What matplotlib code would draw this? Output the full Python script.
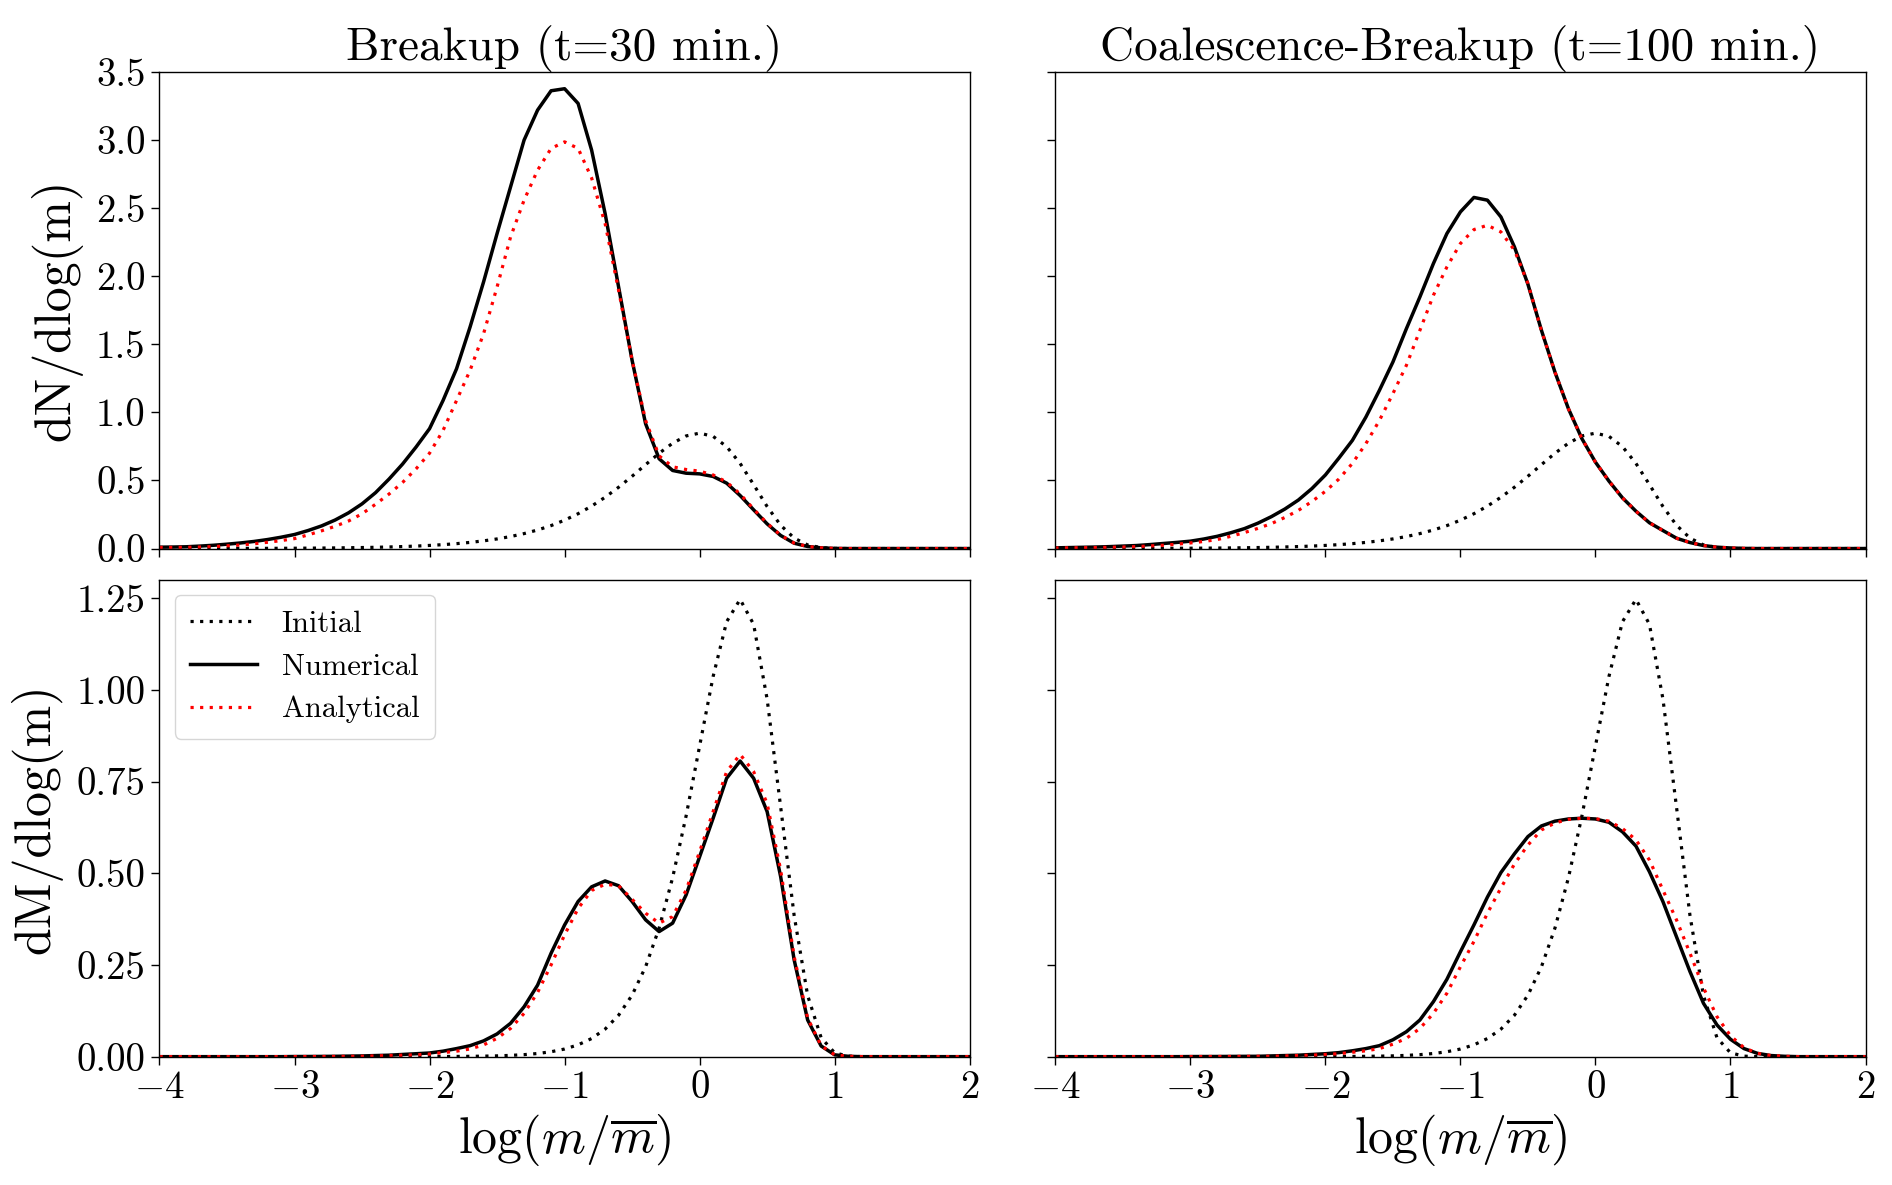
import matplotlib
matplotlib.use("Agg")
import matplotlib.pyplot as plt

plt.rcParams['font.family'] = 'serif'
plt.rcParams['font.serif'] = ['cmr10']
plt.rcParams['mathtext.fontset'] = 'cm'
plt.rcParams['axes.formatter.use_mathtext'] = True
plt.rcParams['axes.unicode_minus'] = True

# ---------------- data ----------------
logm = [-4.0, -3.9, -3.8, -3.7, -3.6, -3.5, -3.4, -3.3, -3.2, -3.1,
        -3.0, -2.9, -2.8, -2.7, -2.6, -2.5, -2.4, -2.3, -2.2, -2.1,
        -2.0, -1.9, -1.8, -1.7, -1.6, -1.5, -1.4, -1.3, -1.2, -1.1,
        -1.0, -0.9, -0.8, -0.7, -0.6, -0.5, -0.4, -0.3, -0.2, -0.1,
        0.0, 0.1, 0.2, 0.3, 0.4, 0.5, 0.6, 0.7, 0.8, 0.9,
        1.0, 1.1, 1.2, 1.3, 1.4, 1.5, 1.6, 1.7, 1.8, 1.9, 2.0]

initial_dN = [0.0002, 0.0003, 0.0004, 0.0005, 0.0006, 0.0007, 0.0009, 0.0012, 0.0015, 0.0018,
              0.0023, 0.0029, 0.0036, 0.0046, 0.0058, 0.0073, 0.0091, 0.0115, 0.0144, 0.0181,
              0.0228, 0.0286, 0.0359, 0.0450, 0.0564, 0.0705, 0.0880, 0.1097, 0.1361, 0.1683,
              0.2083, 0.2556, 0.3114, 0.3763, 0.4499, 0.5307, 0.6157, 0.6991, 0.7731, 0.8265,
              0.8471, 0.8233, 0.7481, 0.6248, 0.4692, 0.3082, 0.1711, 0.0768, 0.0264, 0.0065,
              0.0010, 0.0001, 0.0, 0.0, 0.0, 0.0, 0.0, 0.0, 0.0, 0.0, 0.0]

initial_dM = [0.0, 0.0, 0.0, 0.0, 0.0, 0.0, 0.0, 0.0, 0.0, 0.0,
              0.0, 0.0, 0.0, 0.0, 0.0, 0.0, 0.0, 0.0, 0.0001, 0.0001,
              0.0002, 0.0004, 0.0006, 0.0009, 0.0014, 0.0022, 0.0035, 0.0055, 0.0086, 0.0134,
              0.0208, 0.0322, 0.0494, 0.0751, 0.1130, 0.1678, 0.2451, 0.3504, 0.4878, 0.6565,
              0.8471, 1.0365, 1.1857, 1.2467, 1.1786, 0.9746, 0.6812, 0.3849, 0.1666, 0.0516,
              0.0105, 0.0014, 0.0001, 0.0, 0.0, 0.0, 0.0, 0.0, 0.0, 0.0, 0.0]

# Breakup (t = 30 min)
breakup_dN_num = [0.010, 0.011, 0.013, 0.018, 0.024, 0.032, 0.041, 0.052, 0.066, 0.083,
                  0.103, 0.132, 0.166, 0.209, 0.262, 0.328, 0.410, 0.510, 0.620, 0.745,
                  0.880, 1.087, 1.320, 1.626, 1.957, 2.312, 2.655, 2.998, 3.218, 3.360,
                  3.375, 3.267, 2.925, 2.459, 1.920, 1.381, 0.916, 0.659, 0.573, 0.553,
                  0.548, 0.529, 0.480, 0.389, 0.284, 0.181, 0.096, 0.039, 0.015, 0.005,
                  0.001, 0.0, 0.0, 0.0, 0.0, 0.0, 0.0, 0.0, 0.0, 0.0, 0.0]

breakup_dN_ana = [0.008, 0.008, 0.009, 0.011, 0.014, 0.020, 0.026, 0.035, 0.046, 0.058,
                  0.073, 0.100, 0.130, 0.163, 0.202, 0.255, 0.325, 0.400, 0.485, 0.585,
                  0.700, 0.867, 1.087, 1.308, 1.577, 1.920, 2.287, 2.557, 2.777, 2.937,
                  2.985, 2.937, 2.720, 2.386, 1.895, 1.381, 0.940, 0.680, 0.600, 0.580,
                  0.568, 0.540, 0.488, 0.400, 0.290, 0.185, 0.098, 0.040, 0.015, 0.005,
                  0.001, 0.0, 0.0, 0.0, 0.0, 0.0, 0.0, 0.0, 0.0, 0.0, 0.0]

breakup_dM_num = [0.0, 0.0, 0.0, 0.0, 0.0, 0.0, 0.0, 0.0, 0.0, 0.0,
                  0.0004, 0.0005, 0.0007, 0.001, 0.0015, 0.002, 0.003, 0.004, 0.006, 0.008,
                  0.010, 0.015, 0.022, 0.030, 0.043, 0.062, 0.091, 0.136, 0.195, 0.282,
                  0.359, 0.423, 0.463, 0.479, 0.466, 0.423, 0.373, 0.341, 0.364, 0.441,
                  0.545, 0.650, 0.759, 0.806, 0.759, 0.668, 0.491, 0.264, 0.100, 0.029,
                  0.005, 0.001, 0.0, 0.0, 0.0, 0.0, 0.0, 0.0, 0.0, 0.0, 0.0]

breakup_dM_ana = [0.0, 0.0, 0.0, 0.0, 0.0, 0.0, 0.0, 0.0, 0.0, 0.0,
                  0.0002, 0.0003, 0.0004, 0.0006, 0.0008, 0.001, 0.002, 0.003, 0.004, 0.005,
                  0.007, 0.011, 0.015, 0.021, 0.032, 0.050, 0.077, 0.118, 0.175, 0.250,
                  0.332, 0.404, 0.453, 0.470, 0.466, 0.429, 0.391, 0.364, 0.382, 0.454,
                  0.559, 0.668, 0.777, 0.824, 0.777, 0.690, 0.509, 0.273, 0.105, 0.030,
                  0.005, 0.001, 0.0, 0.0, 0.0, 0.0, 0.0, 0.0, 0.0, 0.0, 0.0]

# Coalescence-Breakup (t = 100 min)
coalbr_dN_num = [0.005, 0.007, 0.009, 0.011, 0.014, 0.018, 0.022, 0.029, 0.037, 0.045,
                 0.054, 0.070, 0.090, 0.116, 0.146, 0.186, 0.234, 0.290, 0.356, 0.440,
                 0.540, 0.664, 0.794, 0.965, 1.161, 1.369, 1.614, 1.847, 2.092, 2.312,
                 2.471, 2.577, 2.557, 2.434, 2.214, 1.940, 1.602, 1.295, 1.026, 0.806,
                 0.634, 0.495, 0.372, 0.274, 0.189, 0.132, 0.076, 0.044, 0.022, 0.010,
                 0.004, 0.001, 0.0, 0.0, 0.0, 0.0, 0.0, 0.0, 0.0, 0.0, 0.0]

coalbr_dN_ana = [0.004, 0.005, 0.006, 0.007, 0.009, 0.011, 0.014, 0.019, 0.024, 0.032,
                 0.041, 0.052, 0.066, 0.090, 0.117, 0.148, 0.183, 0.228, 0.280, 0.345,
                 0.420, 0.510, 0.625, 0.770, 0.940, 1.137, 1.345, 1.602, 1.859, 2.067,
                 2.239, 2.341, 2.373, 2.324, 2.190, 1.945, 1.600, 1.295, 1.026, 0.806,
                 0.634, 0.495, 0.372, 0.274, 0.189, 0.132, 0.076, 0.044, 0.022, 0.010,
                 0.004, 0.001, 0.0, 0.0, 0.0, 0.0, 0.0, 0.0, 0.0, 0.0, 0.0]

coalbr_dM_num = [0.0, 0.0, 0.0, 0.0, 0.0, 0.0, 0.0, 0.0, 0.0, 0.0,
                 0.0003, 0.0004, 0.0005, 0.0007, 0.0009, 0.001, 0.002, 0.003, 0.004, 0.006,
                 0.008, 0.011, 0.016, 0.022, 0.030, 0.046, 0.068, 0.100, 0.150, 0.211,
                 0.286, 0.359, 0.435, 0.502, 0.553, 0.600, 0.629, 0.642, 0.648, 0.650,
                 0.648, 0.639, 0.613, 0.574, 0.504, 0.4225, 0.327, 0.232, 0.1455, 0.0864,
                 0.0474, 0.022, 0.009, 0.003, 0.001, 0.0, 0.0, 0.0, 0.0, 0.0, 0.0]

coalbr_dM_ana = [0.0, 0.0, 0.0, 0.0, 0.0, 0.0, 0.0, 0.0, 0.0, 0.0,
                 0.0002, 0.0003, 0.0004, 0.0005, 0.0007, 0.001, 0.001, 0.002, 0.003, 0.004,
                 0.006, 0.008, 0.012, 0.016, 0.022, 0.034, 0.050, 0.077, 0.118, 0.173,
                 0.245, 0.314, 0.391, 0.460, 0.525, 0.577, 0.618, 0.637, 0.647, 0.650,
                 0.649, 0.642, 0.622, 0.591, 0.536, 0.454, 0.373, 0.282, 0.188, 0.109,
                 0.057, 0.0245, 0.009, 0.003, 0.001, 0.0, 0.0, 0.0, 0.0, 0.0, 0.0]

titles = ["Breakup (t=30 min.)", "Coalescence-Breakup (t=100 min.)"]
ylabels = ["dN/dlog(m)", "dM/dlog(m)"]
xlabel = r"$\log(m/\overline{m})$"
legend_labels = ["Initial", "Numerical", "Analytical"]

top_yticks = [0.0, 0.5, 1.0, 1.5, 2.0, 2.5, 3.0, 3.5]
bot_yticks = [0.00, 0.25, 0.50, 0.75, 1.00, 1.25]
xticks = [-4, -3, -2, -1, 0, 1, 2]

# ---------------- figure ----------------
fig = plt.figure(figsize=(18.92, 11.85), dpi=100)
L, R = 0.0843, 0.986
B, T = 0.1083, 0.9395
gs = fig.add_gridspec(2, 2, left=L, right=R, bottom=B, top=T,
                      wspace=0.1057, hspace=0.0656)
ax00 = fig.add_subplot(gs[0, 0])
ax01 = fig.add_subplot(gs[0, 1], sharey=ax00)
ax10 = fig.add_subplot(gs[1, 0], sharex=ax00)
ax11 = fig.add_subplot(gs[1, 1], sharey=ax10, sharex=ax01)

dot_dash = (0, (1.0, 2.0))
lw_dot = 2.3
lw_sol = 2.5

panels = [
    (ax00, initial_dN, breakup_dN_num, breakup_dN_ana),
    (ax01, initial_dN, coalbr_dN_num, coalbr_dN_ana),
    (ax10, initial_dM, breakup_dM_num, breakup_dM_ana),
    (ax11, initial_dM, coalbr_dM_num, coalbr_dM_ana),
]
for ax, ini, num, ana in panels:
    ax.plot(logm, ini, color='black', linestyle=dot_dash, lw=lw_dot, label=legend_labels[0])
    ax.plot(logm, num, color='black', linestyle='-', lw=lw_sol, label=legend_labels[1])
    ax.plot(logm, ana, color='red', linestyle=dot_dash, lw=lw_dot, label=legend_labels[2])
    ax.set_xlim(-4, 2)
    ax.set_xticks(xticks)
    ax.tick_params(axis='both', which='major', labelsize=28, length=6, width=1.0,
                   direction='out', pad=4)
    for s in ax.spines.values():
        s.set_linewidth(1.0)

ax00.set_ylim(0, 3.5)
ax00.set_yticks(top_yticks)
ax10.set_ylim(0, 1.30)
ax10.set_yticks(bot_yticks)
ax10.set_yticklabels([f"{v:.2f}" for v in bot_yticks])
ax00.set_yticklabels([f"{v:.1f}" for v in top_yticks])

for ax in (ax00, ax01):
    ax.tick_params(labelbottom=False)
for ax in (ax01, ax11):
    ax.tick_params(labelleft=False)

ax00.set_title(titles[0], fontsize=34, pad=8)
ax01.set_title(titles[1], fontsize=34, pad=8)
ax00.set_ylabel(ylabels[0], fontsize=36, labelpad=10)
ax10.set_ylabel(ylabels[1], fontsize=36, labelpad=10)
ax10.set_xlabel(xlabel, fontsize=36, labelpad=4)
ax11.set_xlabel(xlabel, fontsize=36, labelpad=4)

ax10.legend(loc='upper left', fontsize=22, handlelength=2.2, borderpad=0.5,
            labelspacing=0.5, handletextpad=0.8, fancybox=True, framealpha=0.8)

fig.savefig("out.png", dpi=100)
